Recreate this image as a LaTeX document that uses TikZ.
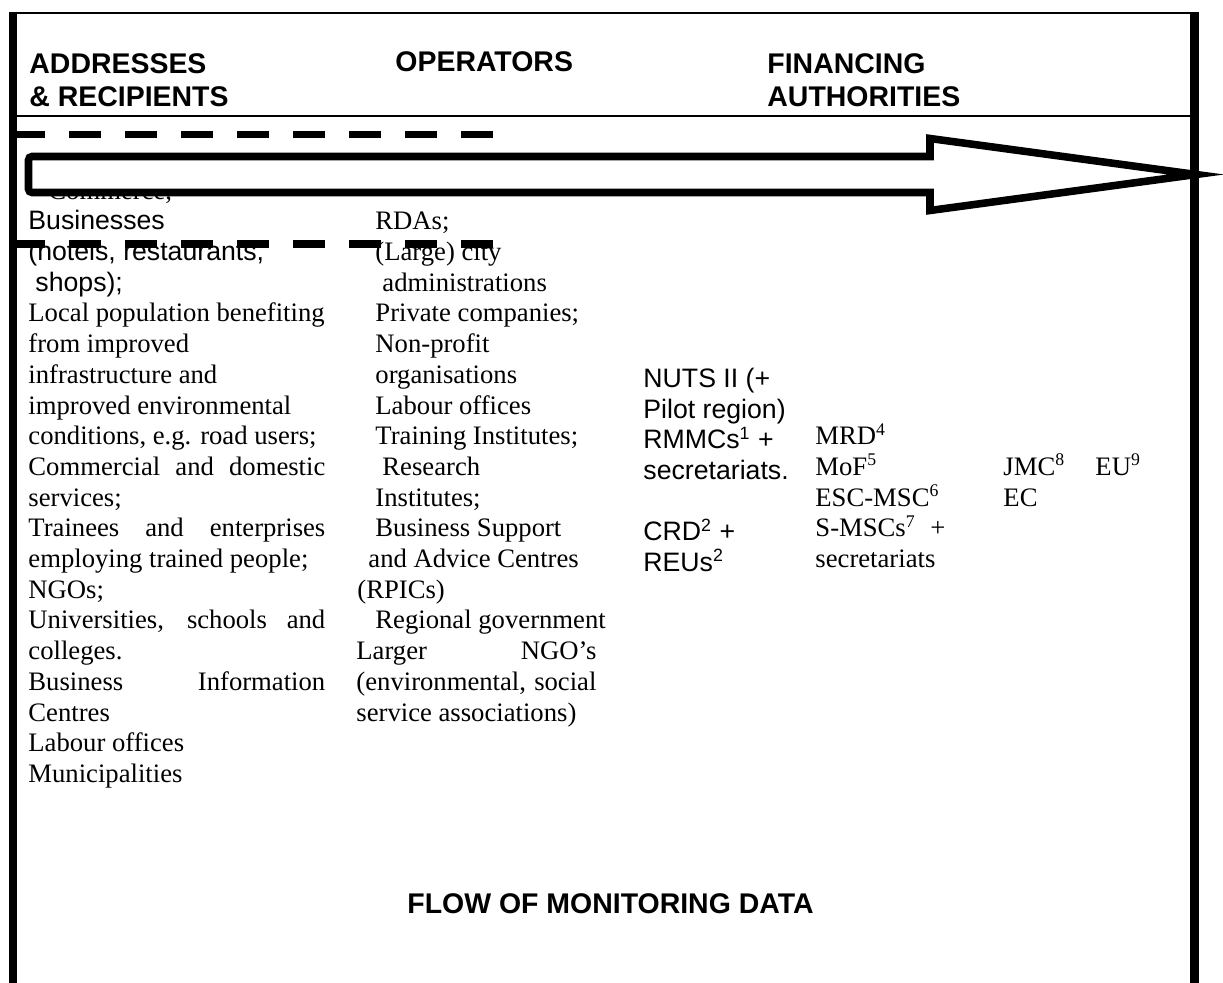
\documentclass[tikz,border=0pt]{standalone}
\usepackage{fontspec}
\setmainfont{Liberation Serif}
\newfontfamily\arialfont{Liberation Sans}
\begin{document}
\begin{tikzpicture}[x=0.45pt,y=-0.45pt,
  serif/.style={anchor=base west,inner sep=0pt,font=\fontsize{12}{14}\selectfont},
  sans/.style={anchor=base west,inner sep=0pt,font=\arialfont\fontsize{12}{14}\selectfont},
  head/.style={anchor=base west,inner sep=0pt,font=\arialfont\bfseries\fontsize{12.8}{15}\selectfont},
  thinrule/.style={line width=0.85pt},
  sidebar/.style={line width=3.8pt},
  dashrule/.style={line width=3.3pt,dash pattern=on 14.4pt off 10.8pt},
  bigarrow/.style={line width=3.4pt,line join=miter,miter limit=12,fill=white,draw=black}]
% page area
\fill[white] (0,0) rectangle (1223,983);
\useasboundingbox (0,0) rectangle (1223,983);

% column headings
\node[head] (hA1) at (29,74) {ADDRESSES};
\node[head] (hA2) at (29,107) {\& RECIPIENTS};
\node[head] (hB)  at (395,72) {OPERATORS};
\node[head] (hC1) at (767,74) {FINANCING};
\node[head] (hC2) at (767,107) {AUTHORITIES};

% addressees and recipients
\node[serif] (a0)  at (48,199.2)  {Commerce,};
\node[sans]  (a1)  at (28,229.9)  {Businesses};
\node[sans]  (a2)  at (28,260.6)  {(hotels, restaurants,};
\node[sans]  (a3)  at (35,291.3)  {shops);};
\node[serif] (a4)  at (28,322.0)  {Local population benefiting};
\node[serif] (a5)  at (28,352.7)  {from improved};
\node[serif] (a6)  at (28,383.4)  {infrastructure and};
\node[serif] (a7)  at (28,414.1)  {improved environmental};
\node[serif] (a8)  at (28,444.8)  {conditions, e.g. road users;};
\node[serif] (a9)  at (28,475.5)  {\makebox[133.6pt][s]{Commercial and domestic}};
\node[serif] (a10) at (28,506.2)  {services;};
\node[serif] (a11) at (28,536.9)  {\makebox[133.6pt][s]{Trainees and enterprises}};
\node[serif] (a12) at (28,567.6)  {employing trained people;};
\node[serif] (a13) at (28,598.3)  {NGOs;};
\node[serif] (a14) at (28,629.0)  {\makebox[133.6pt][s]{Universities, schools and}};
\node[serif] (a15) at (28,659.7)  {colleges.};
\node[serif] (a16) at (28,690.4)  {\makebox[133.6pt][s]{Business Information}};
\node[serif] (a17) at (28,721.1)  {Centres};
\node[serif] (a18) at (28,751.8)  {Labour offices};
\node[serif] (a19) at (28,782.5)  {Municipalities};

% operators
\node[serif] (b1)  at (375,229.9) {RDAs;};
\node[serif] (b2)  at (375,260.6) {(Large) city};
\node[serif] (b3)  at (382,291.3) {administrations};
\node[serif] (b4)  at (375,322.0) {Private companies;};
\node[serif] (b5)  at (375,352.7) {Non-profit};
\node[serif] (b6)  at (375,383.4) {organisations};
\node[serif] (b7)  at (375,414.1) {Labour offices};
\node[serif] (b8)  at (375,444.8) {Training Institutes;};
\node[serif] (b9)  at (382,475.5) {Research};
\node[serif] (b10) at (375,506.2) {Institutes;};
\node[serif] (b11) at (375,536.9) {Business Support};
\node[serif] (b12) at (368,567.6) {and Advice Centres};
\node[serif] (b13) at (357,598.3) {(RPICs)};
\node[serif] (b14) at (375,629.0) {Regional government};
\node[serif] (b15) at (356,659.7) {\makebox[108pt][s]{Larger NGO’s}};
\node[serif] (b16) at (356,690.4) {\makebox[108pt][s]{(environmental, social}};
\node[serif] (b17) at (356,721.1) {service associations)};

% regional level
\node[sans] (c6)  at (643,387.4) {NUTS II (+};
\node[sans] (c7)  at (643,418.1) {Pilot region)};
\node[sans] (c8)  at (643,448.8) {RMMCs\textsuperscript{1} +};
\node[sans] (c9)  at (643,479.5) {secretariats.};
\node[sans] (c11) at (643,540.9) {CRD\textsuperscript{2} +};
\node[sans] (c12) at (643,571.6) {REUs\textsuperscript{2}};

% national and EU level
\node[serif] (d8)  at (815,444.8) {MRD\textsuperscript{4}};
\node[serif] (d9)  at (815,475.5) {MoF\textsuperscript{5}};
\node[serif] (d10) at (815,506.2) {ESC-MSC\textsuperscript{6}};
\node[serif] (d11) at (815,536.9) {\makebox[58.5pt][s]{S-MSCs\textsuperscript{7} +}};
\node[serif] (d12) at (815,567.6) {secretariats};
\node[serif] (e9)  at (1003,475.5) {JMC\textsuperscript{8}};
\node[serif] (e10) at (1003,506.2) {EC};
\node[serif] (f9)  at (1095,475.5) {EU\textsuperscript{9}};

% caption
\node[head] (flow) at (407,913) {FLOW OF MONITORING DATA};

% broad flow arrow (rounded tail corners, sharp head)
\coordinate (tailMid) at (28.5,174.5);
\coordinate (tailTop) at (28.5,156.5);
\coordinate (tailTopIn) at (60,156.5);
\coordinate (stepTop) at (930,156.5);
\coordinate (barbTop) at (930,138.5);
\coordinate (tip)     at (1196,174.5);
\coordinate (barbBot) at (930,210.5);
\coordinate (stepBot) at (930,192.5);
\coordinate (tailBotIn) at (60,192.5);
\coordinate (tailBot) at (28.5,192.5);
\draw[bigarrow] (tailMid) [rounded corners=1.6pt] -- (tailTop) -- (tailTopIn)
  [sharp corners] -- (stepTop) -- (barbTop) -- (tip) -- (barbBot) -- (stepBot) -- (tailBotIn)
  [rounded corners=1.6pt] -- (tailBot) -- cycle;

% dashed guide lines
\coordinate (dA1) at (13,134.5);
\coordinate (dA2) at (494,134.5);
\coordinate (dB1) at (13,244);
\coordinate (dB2) at (494,244);
\draw[dashrule] (dA1) -- (dA2);
\draw[dashrule] (dB1) -- (dB2);

% frame
\coordinate (tl) at (9,12.8);
\coordinate (tr) at (1199,12.8);
\coordinate (ml) at (9,116);
\coordinate (mr) at (1199,116);
\draw[thinrule] (tl) -- (tr);
\draw[line width=0.77pt] (ml) -- (mr);
\coordinate (lbTop) at (13,12);
\coordinate (lbBot) at (13,983);
\coordinate (rbTop) at (1194.5,12);
\coordinate (rbBot) at (1194.5,983);
\draw[sidebar] (lbTop) -- (lbBot);
\draw[sidebar,line width=4pt] (rbTop) -- (rbBot);
\end{tikzpicture}
\end{document}
